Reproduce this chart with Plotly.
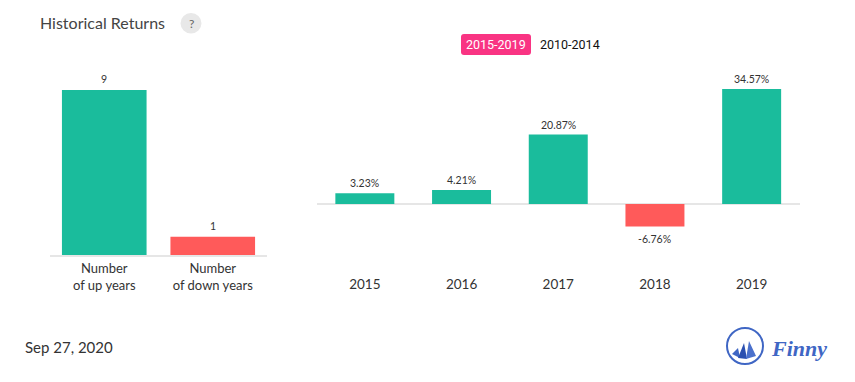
import plotly.graph_objects as go

W, H = 855, 382

summary_labels = ["Number<br>of up years", "Number<br>of down years"]
summary_values = [9, 1]
summary_colors = ["#1abc9c", "#ff5a5a"]

years = ["2015", "2016", "2017", "2018", "2019"]
returns = [3.23, 4.21, 20.87, -6.76, 34.57]
return_labels = ["3.23%", "4.21%", "20.87%", "-6.76%", "34.57%"]

GREEN, RED = "#1abc9c", "#ff5a5a"
FONT = "Lato"


def fx(px):
    return px / W


def fy(px):
    return 1 - px / H


fig = go.Figure()
fig.add_trace(go.Bar(
    x=summary_labels, y=summary_values, marker_color=summary_colors, marker_line_width=0,
    cliponaxis=False, width=0.78, xaxis="x", yaxis="y", hoverinfo="skip",
))
fig.add_trace(go.Bar(
    x=years, y=returns, marker_color=[GREEN if v >= 0 else RED for v in returns], marker_line_width=0,
    cliponaxis=False, width=0.61, xaxis="x2", yaxis="y2", hoverinfo="skip",
))

shapes = [
    dict(type="circle", xref="paper", yref="paper", x0=fx(180.5), x1=fx(201.5), y0=fy(33.5), y1=fy(13),
         fillcolor="#e8e8e8", line_width=0),
    dict(type="circle", xref="paper", yref="paper", x0=fx(727), x1=fx(763), y0=fy(364), y1=fy(328),
         line=dict(color="#3f66c4", width=2), fillcolor="rgba(0,0,0,0)"),
]


def px_path(points):
    return "M " + " L ".join(f"{fx(x):.5f},{fy(y):.5f}" for x, y in points) + " Z"


# rounded pink button
r = 3
x0b, x1b, y0b, y1b = 461, 531, 34, 55
btn = (f"M {fx(x0b+r):.5f},{fy(y0b):.5f} L {fx(x1b-r):.5f},{fy(y0b):.5f} "
       f"Q {fx(x1b):.5f},{fy(y0b):.5f} {fx(x1b):.5f},{fy(y0b+r):.5f} "
       f"L {fx(x1b):.5f},{fy(y1b-r):.5f} Q {fx(x1b):.5f},{fy(y1b):.5f} {fx(x1b-r):.5f},{fy(y1b):.5f} "
       f"L {fx(x0b+r):.5f},{fy(y1b):.5f} Q {fx(x0b):.5f},{fy(y1b):.5f} {fx(x0b):.5f},{fy(y1b-r):.5f} "
       f"L {fx(x0b):.5f},{fy(y0b+r):.5f} Q {fx(x0b):.5f},{fy(y0b):.5f} {fx(x0b+r):.5f},{fy(y0b):.5f} Z")
shapes.append(dict(type="path", xref="paper", yref="paper", path=btn, fillcolor="#f93483", line_width=0))

# logo sails
for pts, col in [
    ([(732, 354), (738, 348), (740, 358)], "#3f66c4"),
    ([(738, 358), (744, 343), (747, 359)], "#2a4fb0"),
    ([(746, 359), (749, 341), (756, 356)], "#4a70cc"),
]:
    shapes.append(dict(type="path", xref="paper", yref="paper", path=px_path(pts), fillcolor=col, line_width=0))


def note(text, x, y, size, color, family=FONT, anchor="left", **kw):
    return dict(text=text, xref="paper", yref="paper", x=fx(x), y=fy(y), xanchor=anchor, yanchor="middle",
                showarrow=False, font=dict(family=family, size=size, color=color), **kw)


annotations = [
    note("Historical Returns", 37.5, 22.5, 16, "#444444"),
    note("?", 191, 23.5, 12, "#666666", anchor="center"),
    note("2015-2019", 496, 44.5, 12.5, "#ffffff", family="Roboto", anchor="center"),
    note("2010-2014", 570, 44.5, 12.5, "#111111", family="Roboto", anchor="center"),
    note("Sep 27, 2020", 23, 347, 15, "#333333"),
    note("<b><i>Finny</i></b>", 769, 348, 22, "#3f66c4", family="Liberation Serif"),
]

# value labels, placed from the data through the axes (category index on the x axis)
for i, v in enumerate(summary_values):
    annotations.append(dict(text=str(v), x=i, y=v, xref="x", yref="y", showarrow=False, yanchor="bottom",
                            yshift=3, font=dict(family=FONT, size=10.5, color="#333333")))
for i, (v, lab) in enumerate(zip(returns, return_labels)):
    annotations.append(dict(text=lab, x=i, y=v, xref="x2", yref="y2", showarrow=False,
                            yanchor="bottom" if v >= 0 else "top", yshift=2 if v >= 0 else -5,
                            font=dict(family=FONT, size=10.5, color="#333333")))

# left panel: baseline y=255, 9 units = 165 px; right panel: zero y=204, 34.57 = 115 px
L_TOP, L_BOT = 60, 255
R_TOP, R_BOT = 60, 274
l_scale = 165 / 9
r_scale = 115 / 34.57

fig.update_layout(
    width=W, height=H, margin=dict(l=0, r=0, t=0, b=0), autosize=False,
    paper_bgcolor="white", plot_bgcolor="white", showlegend=False, bargap=0.2,
    font=dict(family=FONT),
    xaxis=dict(domain=[fx(50), fx(267)], type="category", range=[-0.5, len(summary_values) - 0.5],
               showgrid=False, showline=True, linecolor="#e6e6e6",
               linewidth=2, ticks="", tickfont=dict(family=FONT, size=13, color="#333333"), anchor="y"),
    yaxis=dict(domain=[fy(L_BOT), fy(L_TOP)], range=[0, (L_BOT - L_TOP) / l_scale], visible=False, anchor="x"),
    xaxis2=dict(domain=[fx(316.5), fx(800)], type="category", range=[-0.5, len(years) - 0.5],
                showgrid=False, showline=False, ticks="",
                tickfont=dict(family=FONT, size=13.5, color="#333333"), anchor="y2"),
    yaxis2=dict(domain=[fy(R_BOT), fy(R_TOP)],
                range=[-(R_BOT - 204) / r_scale, (204 - R_TOP) / r_scale],
                showgrid=False, showticklabels=False, ticks="", zeroline=True, zerolinecolor="#e6e6e6",
                zerolinewidth=2, anchor="x2"),
    shapes=shapes, annotations=annotations,
)

fig.write_html("out.html", config={"displayModeBar": False},
               post_script="document.body.style.margin='0';document.documentElement.style.overflow='hidden';")
